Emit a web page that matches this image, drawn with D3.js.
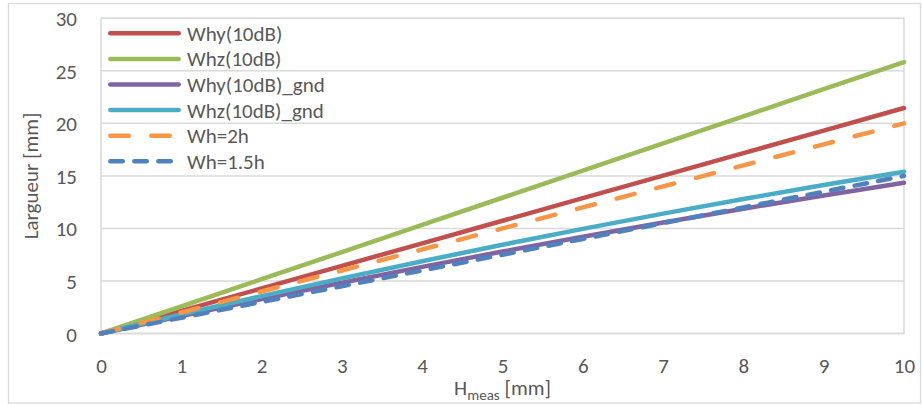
<!DOCTYPE html>
<html>
<head>
<meta charset="utf-8">
<script src="https://cdn.jsdelivr.net/npm/d3@7"></script>
<style>
  html, body { margin: 0; padding: 0; background: #fff; }
  svg { display: block; }
  text { font-family: Calibri, Carlito, Lato, sans-serif; fill: #595959; }
</style>
</head>
<body>
<svg id="chart" width="922" height="405"></svg>
<script>
// ---- data ----
const hMeas = [0, 1, 2, 3, 4, 5, 6, 7, 8, 9, 10];
const whyDB = [0, 2.15, 4.29, 6.44, 8.58, 10.73, 12.88, 15.02, 17.17, 19.31, 21.46];
const whzDB = [0, 2.58, 5.17, 7.75, 10.34, 12.92, 15.5, 18.09, 20.67, 23.26, 25.84];
const whyGnd = [0, 1.66, 3.27, 4.83, 6.34, 7.8, 9.21, 10.57, 11.88, 13.14, 14.35];
const whzGnd = [0, 1.81, 3.56, 5.25, 6.88, 8.45, 9.96, 11.41, 12.8, 14.13, 15.4];
const wh2h = [0, 2, 4, 6, 8, 10, 12, 14, 16, 18, 20];
const wh15h = [0, 1.5, 3, 4.5, 6, 7.5, 9, 10.5, 12, 13.5, 15];
const seriesNames = ["Why(10dB)", "Whz(10dB)", "Why(10dB)_gnd", "Whz(10dB)_gnd", "Wh=2h", "Wh=1.5h"];
const xTicks = [0, 1, 2, 3, 4, 5, 6, 7, 8, 9, 10];
const yTicks = [0, 5, 10, 15, 20, 25, 30];
const xTitleMain = "H", xTitleSub = "meas", xTitleUnit = " [mm]";
const yTitle = "Largueur [mm]";

// ---- styles ----
const colors = ["#C0504D", "#9BBB59", "#8064A2", "#4BACC6", "#F79646", "#4F81BD"];
const dashes = [null, null, null, null, "18.5,22.5", "12.5,11.5"];
const seriesValues = [whyDB, whzDB, whyGnd, whzGnd, wh2h, wh15h];
const series = seriesNames.map((name, i) => ({
  name, color: colors[i], dash: dashes[i],
  points: hMeas.map((h, j) => [h, seriesValues[i][j]])
}));

const svg = d3.select("#chart");
const grid = "#D9D9D9";
const fs = 21;
const ff = "Calibri, Carlito, Lato, sans-serif";

// outer border
svg.append("rect").attr("x", 8.5).attr("y", 3.5).attr("width", 912).attr("height", 399.5)
  .attr("fill", "#fff").attr("stroke", grid).attr("stroke-width", 1.3);

const plot = { left: 101, right: 904, top: 18.3, bottom: 333.5 };
const x = d3.scaleLinear().domain([0, 10]).range([plot.left, plot.right]);
const y = d3.scaleLinear().domain([0, 30]).range([plot.bottom, plot.top]);

// gridlines
svg.append("g").selectAll("line").data(yTicks).join("line")
  .attr("x1", plot.left).attr("x2", plot.right)
  .attr("y1", d => y(d)).attr("y2", d => y(d))
  .attr("stroke", grid).attr("stroke-width", 1.5);
// plot area border
svg.append("rect").attr("x", plot.left).attr("y", plot.top)
  .attr("width", plot.right - plot.left).attr("height", plot.bottom - plot.top)
  .attr("fill", "none").attr("stroke", grid).attr("stroke-width", 1.5);

// axes (labels only)
const yAxis = d3.axisLeft(y).tickValues(yTicks).tickSize(0).tickPadding(24);
const gy = svg.append("g").attr("transform", `translate(${plot.left},0)`).call(yAxis);
gy.select(".domain").remove();
gy.selectAll("text").attr("font-size", fs).attr("fill", "#595959")
  .style("font-family", ff).attr("dy", "0.36em");

const xAxis = d3.axisBottom(x).tickValues(xTicks).tickSize(0).tickPadding(0);
const gx = svg.append("g").attr("transform", `translate(0,${plot.bottom})`).call(xAxis);
gx.select(".domain").remove();
gx.selectAll("text").attr("font-size", fs).attr("fill", "#595959")
  .style("font-family", ff)
  .attr("y", 31.5).attr("dy", "0.36em");

// axis titles
const xt = svg.append("text").attr("x", (plot.left + plot.right) / 2).attr("y", 395)
  .attr("text-anchor", "middle").attr("font-size", fs);
xt.append("tspan").text(xTitleMain);
xt.append("tspan").attr("font-size", 15).attr("dy", 5).text(xTitleSub);
xt.append("tspan").attr("dy", -5).text(xTitleUnit);

svg.append("text").attr("transform", `translate(31,${(plot.top + plot.bottom) / 2}) rotate(-90)`)
  .attr("text-anchor", "middle").attr("dominant-baseline", "central")
  .attr("font-size", fs).text(yTitle);

// lines
const line = d3.line().x(d => x(d[0])).y(d => y(d[1]));
svg.append("g").selectAll("path").data(series).join("path")
  .attr("d", d => line(d.points))
  .attr("fill", "none").attr("stroke", d => d.color).attr("stroke-width", 4.5)
  .attr("stroke-linecap", "round").attr("stroke-linejoin", "round")
  .attr("stroke-dasharray", d => d.dash);

// legend
const lg = svg.append("g");
const rowY = i => 33.3 + i * 25.6;
lg.selectAll("line").data(series).join("line")
  .attr("x1", 110.3).attr("x2", 178.7)
  .attr("y1", (d, i) => rowY(i)).attr("y2", (d, i) => rowY(i))
  .attr("stroke", d => d.color).attr("stroke-width", 4.5)
  .attr("stroke-linecap", "round").attr("stroke-dasharray", d => d.dash);
lg.selectAll("text").data(series).join("text")
  .attr("x", 187).attr("y", (d, i) => rowY(i)).attr("dy", "0.36em")
  .attr("font-size", fs).text(d => d.name);
</script>
</body>
</html>
